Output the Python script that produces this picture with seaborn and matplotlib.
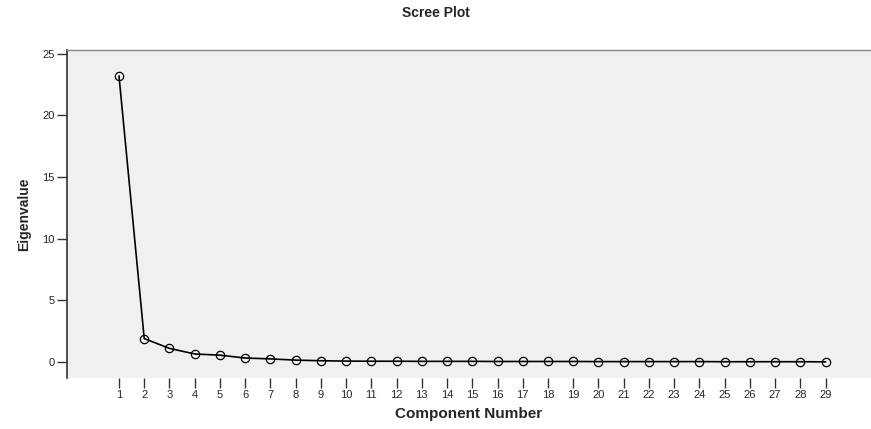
import numpy as np
import pandas as pd
import seaborn as sns
import matplotlib.pyplot as plt

# Valores propios
componentes = list(range(1, 30))
autovalores = [23.2, 1.9, 1.1, 0.65, 0.55, 0.32, 0.25, 0.15, 0.1,
               0.07, 0.06, 0.06, 0.05, 0.05, 0.05, 0.04, 0.04, 0.04,
               0.04, 0.03, 0.03, 0.03, 0.03, 0.03, 0.02, 0.02, 0.02,
               0.02, 0.01]
ticks_y = [0, 5, 10, 15, 20, 25]

df = pd.DataFrame({"componente": componentes, "autovalor": autovalores})

sns.set_style("white")
plt.rcParams["font.family"] = ["Liberation Sans", "DejaVu Sans"]

fig = plt.figure(figsize=(8.71, 4.29), dpi=100)
ax = fig.add_axes([67 / 871, 1 - 378 / 429, 1 - 67 / 871, (378 - 50) / 429])
ax.set_facecolor("#f0f0f0")

sns.lineplot(data=df, x="componente", y="autovalor", ax=ax,
             color="black", linewidth=1.2, marker="o", markersize=6,
             markerfacecolor="none", markeredgecolor="black",
             markeredgewidth=0.9)

ax.set_xlim(-1.06, 30.8)
ax.set_ylim(-1.3, 25.3)
ax.set_xticks(componentes)
ax.set_yticks(ticks_y)
ax.tick_params(axis="both", bottom=True, left=True, labelsize=8, length=7,
               width=1, color="#333333", direction="out", pad=2)

for s in ["right", "bottom"]:
    ax.spines[s].set_visible(False)
ax.spines["left"].set_color("#333333")
ax.spines["left"].set_linewidth(1.2)
ax.spines["top"].set_color("#888888")
ax.spines["top"].set_linewidth(1)

ax.set_xlabel("Component Number", fontsize=11, fontweight="bold", labelpad=5)
ax.set_ylabel("Eigenvalue", fontsize=10, fontweight="bold", labelpad=8)
fig.suptitle("Scree Plot", fontsize=10, fontweight="bold", x=0.5, y=0.985)

plt.savefig("out.png", dpi=100)
